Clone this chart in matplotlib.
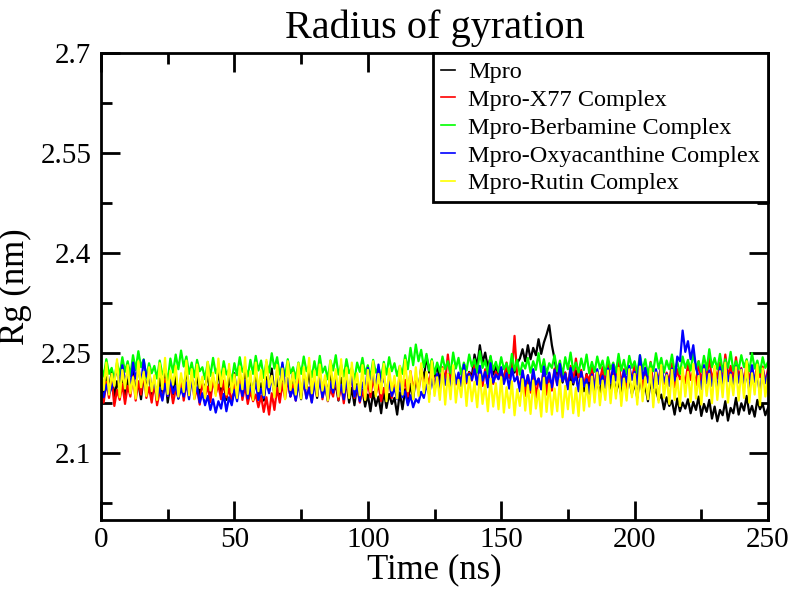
import numpy as np
import matplotlib
matplotlib.use("Agg")
import matplotlib.pyplot as plt

# ---- data (Rg in nm, sampled every 1 ns from 0 to 250 ns) ----
time_ns = np.arange(0, 251, 1)

rg_mpro = [
    2.205, 2.188, 2.214, 2.196, 2.222, 2.183, 2.208, 2.191, 2.217, 2.186,
    2.211, 2.194, 2.226, 2.189, 2.205, 2.181, 2.216, 2.197, 2.224, 2.185,
    2.207, 2.178, 2.212, 2.192, 2.219, 2.176, 2.203, 2.188, 2.215, 2.182,
    2.209, 2.195, 2.228, 2.187, 2.213, 2.191, 2.221, 2.184, 2.206, 2.198,
    2.218, 2.186, 2.210, 2.193, 2.225, 2.189, 2.204, 2.180, 2.214, 2.192,
    2.220, 2.185, 2.208, 2.196, 2.223, 2.182, 2.211, 2.190, 2.217, 2.187,
    2.205, 2.179, 2.214, 2.193, 2.227, 2.188, 2.209, 2.184, 2.219, 2.195,
    2.212, 2.186, 2.222, 2.191, 2.206, 2.181, 2.216, 2.197, 2.224, 2.189,
    2.208, 2.183, 2.218, 2.194, 2.211, 2.187, 2.225, 2.190, 2.203, 2.179,
    2.213, 2.185, 2.207, 2.176, 2.198, 2.172, 2.204, 2.180, 2.195, 2.170,
    2.188, 2.163, 2.192, 2.171, 2.185, 2.160, 2.194, 2.168, 2.189, 2.174,
    2.183, 2.158, 2.191, 2.166, 2.196, 2.175, 2.204, 2.182, 2.213, 2.195,
    2.228, 2.212, 2.246, 2.221, 2.239, 2.215, 2.232, 2.208, 2.224, 2.203,
    2.219, 2.198, 2.226, 2.205, 2.214, 2.201, 2.229, 2.210, 2.222, 2.215,
    2.248, 2.231, 2.262, 2.236, 2.251, 2.229, 2.244, 2.218, 2.232, 2.212,
    2.226, 2.209, 2.231, 2.214, 2.238, 2.221, 2.235, 2.242, 2.256, 2.238,
    2.262, 2.241, 2.258, 2.247, 2.271, 2.249, 2.266, 2.278, 2.292, 2.262,
    2.241, 2.218, 2.229, 2.206, 2.221, 2.198, 2.215, 2.203, 2.224, 2.196,
    2.212, 2.193, 2.219, 2.201, 2.226, 2.195, 2.210, 2.188, 2.217, 2.199,
    2.223, 2.197, 2.214, 2.191, 2.208, 2.186, 2.219, 2.194, 2.211, 2.189,
    2.205, 2.183, 2.213, 2.190, 2.201, 2.178, 2.209, 2.186, 2.196, 2.180,
    2.188, 2.166, 2.184, 2.171, 2.179, 2.158, 2.182, 2.163, 2.176, 2.167,
    2.181, 2.160, 2.177, 2.165, 2.185, 2.156, 2.174, 2.162, 2.180, 2.152,
    2.170, 2.148, 2.165, 2.157, 2.178, 2.149, 2.168, 2.160, 2.183, 2.158,
    2.175, 2.164, 2.186, 2.159, 2.171, 2.155, 2.180, 2.166, 2.174, 2.157,
    2.168,
]

rg_x77 = [
    2.198, 2.176, 2.207, 2.183, 2.212, 2.171, 2.195, 2.180, 2.204, 2.174,
    2.201, 2.185, 2.216, 2.179, 2.208, 2.188, 2.221, 2.183, 2.199, 2.176,
    2.206, 2.172, 2.193, 2.181, 2.211, 2.186, 2.202, 2.175, 2.196, 2.184,
    2.213, 2.179, 2.205, 2.187, 2.218, 2.182, 2.197, 2.173, 2.208, 2.186,
    2.200, 2.177, 2.214, 2.189, 2.203, 2.181, 2.209, 2.184, 2.197, 2.175,
    2.206, 2.188, 2.219, 2.180, 2.201, 2.174, 2.193, 2.178, 2.188, 2.169,
    2.186, 2.162, 2.184, 2.158, 2.190, 2.165, 2.198, 2.176, 2.205, 2.182,
    2.212, 2.185, 2.203, 2.179, 2.215, 2.188, 2.207, 2.183, 2.199, 2.177,
    2.210, 2.186, 2.221, 2.181, 2.204, 2.178, 2.196, 2.185, 2.213, 2.180,
    2.202, 2.175, 2.209, 2.187, 2.217, 2.183, 2.200, 2.176, 2.194, 2.181,
    2.207, 2.184, 2.214, 2.189, 2.203, 2.178, 2.198, 2.186, 2.211, 2.183,
    2.205, 2.188, 2.219, 2.192, 2.210, 2.185, 2.223, 2.196, 2.214, 2.191,
    2.226, 2.199, 2.218, 2.204, 2.231, 2.202, 2.215, 2.197, 2.229, 2.207,
    2.248, 2.211, 2.224, 2.203, 2.217, 2.208, 2.230, 2.205, 2.221, 2.209,
    2.232, 2.207, 2.219, 2.201, 2.226, 2.210, 2.235, 2.204, 2.222, 2.212,
    2.228, 2.205, 2.236, 2.213, 2.220, 2.276, 2.215, 2.198, 2.224, 2.186,
    2.217, 2.191, 2.225, 2.183, 2.212, 2.196, 2.230, 2.188, 2.219, 2.194,
    2.227, 2.203, 2.234, 2.209, 2.221, 2.199, 2.231, 2.206, 2.242, 2.214,
    2.225, 2.201, 2.218, 2.208, 2.233, 2.197, 2.222, 2.210, 2.229, 2.204,
    2.236, 2.207, 2.220, 2.212, 2.241, 2.203, 2.226, 2.198, 2.219, 2.211,
    2.232, 2.206, 2.223, 2.196, 2.228, 2.209, 2.237, 2.201, 2.217, 2.213,
    2.230, 2.204, 2.221, 2.208, 2.235, 2.199, 2.226, 2.211, 2.219, 2.205,
    2.233, 2.210, 2.224, 2.202, 2.238, 2.207, 2.229, 2.214, 2.243, 2.209,
    2.227, 2.212, 2.236, 2.206, 2.248, 2.215, 2.231, 2.209, 2.244, 2.213,
    2.228, 2.204, 2.237, 2.211, 2.225, 2.208, 2.234, 2.214, 2.230, 2.207,
    2.226,
]

rg_berbamine = [
    2.232, 2.215, 2.241, 2.219, 2.228, 2.210, 2.236, 2.217, 2.244, 2.222,
    2.238, 2.216, 2.247, 2.225, 2.253, 2.229, 2.241, 2.213, 2.235, 2.220,
    2.231, 2.212, 2.239, 2.218, 2.227, 2.209, 2.242, 2.221, 2.248, 2.226,
    2.254, 2.230, 2.245, 2.219, 2.236, 2.214, 2.240, 2.223, 2.229, 2.211,
    2.237, 2.216, 2.243, 2.220, 2.230, 2.212, 2.238, 2.218, 2.226, 2.208,
    2.235, 2.217, 2.244, 2.222, 2.231, 2.215, 2.240, 2.219, 2.246, 2.224,
    2.239, 2.213, 2.237, 2.221, 2.250, 2.227, 2.244, 2.218, 2.233, 2.216,
    2.241, 2.220, 2.229, 2.212, 2.236, 2.219, 2.245, 2.223, 2.232, 2.214,
    2.238, 2.217, 2.246, 2.221, 2.230, 2.211, 2.239, 2.224, 2.247, 2.218,
    2.233, 2.215, 2.241, 2.220, 2.228, 2.210, 2.236, 2.222, 2.243, 2.219,
    2.232, 2.214, 2.240, 2.221, 2.229, 2.213, 2.237, 2.218, 2.244, 2.223,
    2.235, 2.216, 2.231, 2.219, 2.247, 2.226, 2.258, 2.232, 2.263, 2.238,
    2.255, 2.229, 2.249, 2.224, 2.241, 2.219, 2.236, 2.222, 2.245, 2.226,
    2.238, 2.220, 2.251, 2.227, 2.243, 2.218, 2.236, 2.224, 2.248, 2.230,
    2.241, 2.221, 2.253, 2.228, 2.239, 2.219, 2.246, 2.225, 2.237, 2.222,
    2.244, 2.226, 2.235, 2.220, 2.249, 2.224, 2.240, 2.218, 2.236, 2.227,
    2.243, 2.221, 2.238, 2.225, 2.250, 2.222, 2.241, 2.219, 2.235, 2.228,
    2.247, 2.223, 2.239, 2.217, 2.244, 2.226, 2.251, 2.224, 2.236, 2.221,
    2.242, 2.225, 2.248, 2.220, 2.237, 2.222, 2.245, 2.227, 2.239, 2.218,
    2.244, 2.226, 2.236, 2.221, 2.249, 2.224, 2.240, 2.219, 2.246, 2.228,
    2.238, 2.220, 2.247, 2.225, 2.241, 2.217, 2.236, 2.223, 2.250, 2.227,
    2.243, 2.221, 2.239, 2.226, 2.248, 2.222, 2.237, 2.219, 2.245, 2.228,
    2.240, 2.224, 2.251, 2.227, 2.238, 2.222, 2.246, 2.225, 2.256, 2.229,
    2.243, 2.226, 2.249, 2.223, 2.241, 2.228, 2.252, 2.224, 2.238, 2.226,
    2.247, 2.229, 2.241, 2.223, 2.250, 2.227, 2.239, 2.221, 2.244, 2.228,
    2.237,
]

rg_oxyacanthine = [
    2.196, 2.184, 2.203, 2.189, 2.198, 2.211, 2.226, 2.204, 2.232, 2.208,
    2.221, 2.199, 2.236, 2.212, 2.228, 2.203, 2.240, 2.215, 2.224, 2.196,
    2.207, 2.183, 2.198, 2.179, 2.204, 2.186, 2.211, 2.190, 2.201, 2.182,
    2.197, 2.185, 2.206, 2.181, 2.213, 2.188, 2.199, 2.176, 2.190, 2.172,
    2.186, 2.165, 2.181, 2.161, 2.178, 2.167, 2.189, 2.163, 2.184, 2.172,
    2.195, 2.178, 2.203, 2.186, 2.210, 2.182, 2.199, 2.188, 2.206, 2.180,
    2.197, 2.183, 2.208, 2.190, 2.215, 2.187, 2.224, 2.196, 2.236, 2.201,
    2.212, 2.185, 2.196, 2.179, 2.203, 2.187, 2.209, 2.182, 2.198, 2.176,
    2.205, 2.188, 2.211, 2.184, 2.200, 2.179, 2.207, 2.191, 2.215, 2.186,
    2.203, 2.181, 2.209, 2.189, 2.219, 2.185, 2.201, 2.178, 2.206, 2.192,
    2.228, 2.205, 2.219, 2.197, 2.233, 2.201, 2.214, 2.193, 2.207, 2.186,
    2.198, 2.181, 2.205, 2.184, 2.193, 2.172, 2.187, 2.169, 2.181, 2.176,
    2.192, 2.183, 2.203, 2.188, 2.211, 2.194, 2.219, 2.197, 2.224, 2.203,
    2.216, 2.198, 2.228, 2.205, 2.221, 2.201, 2.233, 2.207, 2.219, 2.210,
    2.226, 2.203, 2.231, 2.209, 2.222, 2.199, 2.235, 2.206, 2.218, 2.211,
    2.229, 2.204, 2.220, 2.197, 2.227, 2.208, 2.215, 2.193, 2.224, 2.201,
    2.217, 2.195, 2.226, 2.203, 2.212, 2.196, 2.230, 2.205, 2.221, 2.199,
    2.225, 2.202, 2.234, 2.208, 2.219, 2.196, 2.228, 2.206, 2.215, 2.193,
    2.222, 2.200, 2.211, 2.189, 2.218, 2.197, 2.226, 2.204, 2.216, 2.198,
    2.227, 2.205, 2.233, 2.209, 2.219, 2.201, 2.224, 2.207, 2.231, 2.210,
    2.222, 2.203, 2.247, 2.212, 2.228, 2.206, 2.220, 2.198, 2.226, 2.204,
    2.230, 2.207, 2.219, 2.201, 2.227, 2.209, 2.245, 2.238, 2.284, 2.252,
    2.268, 2.241, 2.262, 2.228, 2.214, 2.196, 2.232, 2.205, 2.224, 2.201,
    2.219, 2.197, 2.229, 2.204, 2.236, 2.208, 2.221, 2.199, 2.230, 2.206,
    2.226, 2.203, 2.218, 2.194, 2.232, 2.207, 2.214, 2.190, 2.225, 2.205,
    2.221,
]

rg_rutin = [
    2.228, 2.195, 2.236, 2.188, 2.219, 2.201, 2.241, 2.184, 2.225, 2.197,
    2.232, 2.190, 2.214, 2.182, 2.238, 2.199, 2.222, 2.186, 2.229, 2.193,
    2.217, 2.180, 2.235, 2.196, 2.243, 2.189, 2.224, 2.203, 2.231, 2.185,
    2.220, 2.192, 2.239, 2.187, 2.226, 2.181, 2.233, 2.198, 2.215, 2.183,
    2.237, 2.194, 2.221, 2.186, 2.242, 2.200, 2.227, 2.188, 2.234, 2.191,
    2.218, 2.183, 2.230, 2.196, 2.244, 2.189, 2.223, 2.180, 2.236, 2.193,
    2.225, 2.187, 2.240, 2.199, 2.216, 2.184, 2.232, 2.192, 2.227, 2.181,
    2.238, 2.195, 2.221, 2.188, 2.235, 2.182, 2.229, 2.197, 2.243, 2.190,
    2.224, 2.186, 2.233, 2.194, 2.217, 2.179, 2.239, 2.198, 2.226, 2.185,
    2.241, 2.191, 2.228, 2.183, 2.236, 2.196, 2.220, 2.187, 2.232, 2.180,
    2.225, 2.192, 2.238, 2.185, 2.219, 2.190, 2.234, 2.178, 2.227, 2.194,
    2.216, 2.182, 2.231, 2.188, 2.240, 2.193, 2.223, 2.181, 2.229, 2.186,
    2.235, 2.190, 2.222, 2.177, 2.238, 2.186, 2.214, 2.180, 2.227, 2.173,
    2.219, 2.181, 2.232, 2.176, 2.210, 2.184, 2.224, 2.171, 2.215, 2.178,
    2.207, 2.169, 2.218, 2.174, 2.203, 2.163, 2.212, 2.170, 2.205, 2.166,
    2.214, 2.161, 2.199, 2.168, 2.208, 2.157, 2.196, 2.171, 2.211, 2.164,
    2.202, 2.159, 2.209, 2.167, 2.195, 2.155, 2.213, 2.162, 2.204, 2.158,
    2.197, 2.163, 2.210, 2.154, 2.201, 2.166, 2.207, 2.160, 2.198, 2.156,
    2.212, 2.164, 2.203, 2.170, 2.215, 2.176, 2.221, 2.172, 2.209, 2.180,
    2.224, 2.175, 2.216, 2.182, 2.228, 2.171, 2.212, 2.179, 2.226, 2.184,
    2.219, 2.173, 2.230, 2.178, 2.214, 2.181, 2.227, 2.169, 2.221, 2.176,
    2.232, 2.183, 2.217, 2.174, 2.225, 2.180, 2.213, 2.171, 2.229, 2.185,
    2.222, 2.177, 2.234, 2.182, 2.216, 2.173, 2.226, 2.186, 2.219, 2.175,
    2.231, 2.180, 2.223, 2.184, 2.236, 2.176, 2.218, 2.187, 2.229, 2.179,
    2.225, 2.183, 2.238, 2.176, 2.220, 2.188, 2.233, 2.172, 2.227, 2.185,
    2.216,
]

series_labels = ["Mpro", "Mpro-X77 Complex", "Mpro-Berbamine Complex",
                 "Mpro-Oxyacanthine Complex", "Mpro-Rutin Complex"]
series_colors = ["#000000", "#ff0000", "#00ff00", "#0000ff", "#ffff00"]
x_ticks = [0, 50, 100, 150, 200, 250]
y_ticks = [2.1, 2.25, 2.4, 2.55, 2.7]
y_tick_labels = ["2.1", "2.25", "2.4", "2.55", "2.7"]

# ---- figure ----
plt.rcParams['font.family'] = ['Liberation Serif', 'DejaVu Serif']
fig = plt.figure(figsize=(7.91, 5.93), dpi=100)
ax = fig.add_axes([101/791, 1 - 520/593, (768-101)/791, (520-53)/593])

all_series = [rg_mpro, rg_x77, rg_berbamine, rg_oxyacanthine, rg_rutin]
for vals, lab, col in zip(all_series, series_labels, series_colors):
    ax.plot(time_ns, vals, color=col, lw=1.6, label=lab)

ax.set_xlim(0, 250)
ax.set_ylim(2.0, 2.7)
ax.set_xticks(x_ticks)
ax.set_xticks([25, 75, 125, 175, 225], minor=True)
ax.set_yticks(y_ticks)
ax.set_yticklabels(y_tick_labels)
ax.set_yticks([2.025, 2.175, 2.325, 2.475, 2.625], minor=True)
ax.tick_params(which='both', direction='in', top=True, right=True, width=2,
               labelsize=21)
ax.tick_params(axis='y', pad=7)
ax.tick_params(axis='x', pad=5)
ax.tick_params(which='major', length=14)
ax.tick_params(which='minor', length=8)
for sp in ax.spines.values():
    sp.set_linewidth(2)

ax.set_xlabel("Time (ns)", fontsize=25, labelpad=0)
ax.set_ylabel("Rg (nm)", fontsize=25, labelpad=6)
ax.set_title("Radius of gyration", fontsize=29, pad=11)

leg = ax.legend(loc='upper right', bbox_to_anchor=(1, 1), borderaxespad=0,
                fancybox=False, edgecolor='black', fontsize=17.5,
                handlelength=0.55, handletextpad=0.55, labelspacing=0.24,
                borderpad=0.33, framealpha=1)
leg.get_frame().set_linewidth(2)
for h in leg.legend_handles:
    h.set_linewidth(1.2)

fig.savefig("out.png", dpi=100)
